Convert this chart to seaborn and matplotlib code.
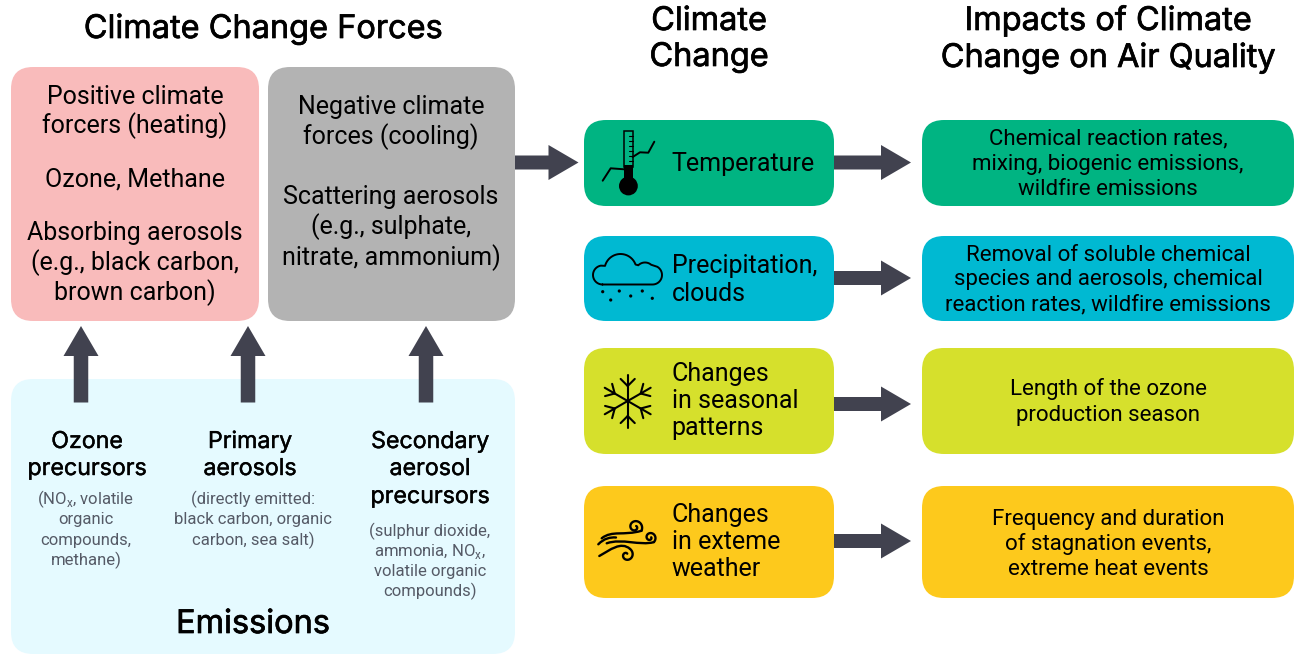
import numpy as np
import pandas as pd
import seaborn as sns
import matplotlib.pyplot as plt
import matplotlib.patheffects as pe
from matplotlib.patches import FancyBboxPatch, FancyArrow, Circle, PathPatch, Rectangle
from matplotlib.path import Path

# text content
forces_title = 'Climate Change Forces'
climate_title = ['Climate', 'Change']
impacts_title = ['Impacts of Climate', 'Change on Air Quality']
positive_lines = ['Positive climate', 'forcers (heating)', 'Ozone, Methane',
                  'Absorbing aerosols', '(e.g., black carbon,', 'brown carbon)']
negative_lines = ['Negative climate', 'forces (cooling)', 'Scattering aerosols',
                  '(e.g., sulphate,', 'nitrate, ammonium)']
emission_heads = [['Ozone', 'precursors'], ['Primary', 'aerosols'],
                  ['Secondary', 'aerosol', 'precursors']]
NOX = r'NO$_{\mathrm{x}}$'
emission_subs = [[f'({NOX}, volatile', 'organic', 'compounds,', 'methane)'],
                 ['(directly emitted:', 'black carbon, organic', 'carbon, sea salt)'],
                 ['(sulphur dioxide,', f'ammonia, {NOX},', 'volatile organic', 'compounds)']]
climate_items = [['Temperature'], ['Precipitation,', 'clouds'],
                 ['Changes', 'in seasonal', 'patterns'], ['Changes', 'in exteme', 'weather']]
impact_items = [['Chemical reaction rates,', 'mixing, biogenic emissions,', 'wildfire emissions'],
                ['Removal of soluble chemical', 'species and aerosols, chemical',
                 'reaction rates, wildfire emissions'],
                ['Length of the ozone', 'production season'],
                ['Frequency and duration', 'of stagnation events,', 'extreme heat events']]

row_colors = sns.color_palette(['#00b482', '#00b9d2', '#d6e02c', '#fdc91c'])
row_top = [120, 236, 348, 486]
row_bottom = [206, 321, 454, 598]
row_arrow_y = [162.5, 278, 404, 541]
ARROW = '#41424f'
HEAD_FONT = 'Inter'
BODY_FONT = 'Roboto'

sns.set_theme(style='white')
plt.rcParams['font.family'] = [BODY_FONT, 'DejaVu Sans']
plt.rcParams['mathtext.fontset'] = 'custom'
plt.rcParams['mathtext.rm'] = BODY_FONT

fig = plt.figure(figsize=(12.94, 6.54), dpi=100)
ax = fig.add_axes([0, 0, 1, 1])


def box(x0, y0, x1, y1, color, radius=22):
    ax.add_patch(FancyBboxPatch((x0 + radius, y0 + radius), x1 - x0 - 2 * radius, y1 - y0 - 2 * radius,
                                boxstyle=f'round,pad={radius},rounding_size={radius}',
                                fc=color, ec='none', zorder=1))


def lines(strings, x, baselines, size, ha='center', color='black', family=BODY_FONT, bold=0):
    for s, y in zip(strings, baselines):
        t = ax.text(x, y, s, ha=ha, va='baseline', fontsize=size, color=color,
                    family=[family, 'DejaVu Sans'], zorder=3)
        if bold:
            # Inter comes out too light here, thicken it a bit
            t.set_path_effects([pe.withStroke(linewidth=bold, foreground=color)])


def arrow_right(x0, x1, y):
    ax.add_patch(FancyArrow(x0, y, x1 - x0, 0, width=14, head_width=35, head_length=30,
                            length_includes_head=True, fc=ARROW, ec='none', zorder=2))


def arrow_up(x, y0, y1):
    ax.add_patch(FancyArrow(x, y0, 0, y1 - y0, width=14.5, head_width=35, head_length=30,
                            length_includes_head=True, fc=ARROW, ec='none', zorder=2))


def stroke(xs, ys, lw=1.5):
    frame = pd.DataFrame({'x': xs, 'y': ys})
    sns.lineplot(data=frame, x='x', y='y', sort=False, estimator=None, color='black',
                 linewidth=lw, ax=ax, zorder=3, solid_capstyle='round', legend=False)


def arc(cx, cy, r, a0, a1, n=30):
    t = np.radians(np.linspace(a0, a1, n))
    return cx + r * np.cos(t), cy - r * np.sin(t)


def curve(verts, lw=1.7):
    codes = [Path.MOVETO] + [Path.CURVE4] * (len(verts) - 1)
    ax.add_patch(PathPatch(Path(verts, codes), fc='none', ec='black', lw=lw, capstyle='round', zorder=3))


def spiral(cx, cy, r0, r1, a0, a1):
    t = np.linspace(0, 1, 60)
    r = r0 + (r1 - r0) * t
    a = np.radians(a0 + (a1 - a0) * t)
    return cx + r * np.cos(a), cy - r * np.sin(a)


def thermometer_icon():
    ax.add_patch(Rectangle((624.3, 130.5), 8.4, 36, fc='none', ec='black', lw=1.1, zorder=3))
    ax.add_patch(Rectangle((624.3, 165), 8.4, 18, fc='black', ec='none', zorder=3))
    ax.add_patch(Circle((628.4, 186), 9.4, fc='black', ec='none', zorder=3))
    for y in [136, 141, 146, 151, 156, 161]:
        stroke([628.5, 632.5], [y, y], lw=0.8)
    stroke([602.7, 610.7, 624.3], [180.7, 168.3, 169.3], lw=1.4)
    stroke([632.7, 640, 648.3, 654.3], [157, 152.3, 152.7, 141.7], lw=1.4)


def cloud_icon():
    xs, ys = [], []
    for part in [arc(602.5, 275, 9.5, 270, 100), arc(620.5, 270, 16, 165, 20),
                 arc(645, 272, 9.5, 135, 50), arc(652.5, 275, 9.5, 60, -90)]:
        xs += list(part[0])
        ys += list(part[1])
    xs.append(xs[0])
    ys.append(ys[0])
    stroke(xs, ys, lw=1.4)
    for px, py in [(602.7, 291.7), (610.7, 300), (619.3, 291), (630.7, 296), (642.3, 291), (652.3, 298.3)]:
        ax.add_patch(Circle((px, py), 1.6, fc='black', ec='none', zorder=3))


def snowflake_icon():
    cx, cy = 627.7, 401
    for ang in [90, 210, 330, 270, 30, 150]:
        ux, uy = np.cos(np.radians(ang)), -np.sin(np.radians(ang))
        stroke([cx, cx + 26.5 * ux], [cy, cy + 26.5 * uy])
        bx, by = cx + 15 * ux, cy + 15 * uy
        for off in [-45, 45]:
            a = np.radians(ang + off)
            stroke([bx, bx + 10 * np.cos(a)], [by, by - 10 * np.sin(a)])


def wind_icon():
    curve([(601.7, 538.3), (612, 530), (624, 536), (641.5, 530.75)])
    stroke(*spiral(635, 527, 7.5, 1.5, -30, 400), lw=1.7)
    curve([(606.7, 543.3), (622, 538), (640, 546), (653.9, 542.1)])
    stroke(*spiral(650, 537.5, 6, 1.2, -50, 370), lw=1.7)
    curve([(599.3, 556), (610, 550), (621, 541), (630, 548.9)])
    stroke(*spiral(626.5, 555, 7, 1.5, 60, -300), lw=1.7)
    curve([(598.3, 544.3), (604, 538.5), (610, 537), (616, 537.5)])


# left panels
box(11, 67, 259, 321, '#f9bbbb')
box(268, 67, 515, 321, '#b3b3b3')
box(11, 379, 515, 654, '#e5faff')

lines([forces_title], 263, [38], 23.4, family=HEAD_FONT, bold=0.5)
lines(climate_title, 709, [30, 66], 23.4, family=HEAD_FONT, bold=0.5)
lines(impacts_title, 1108, [30, 67], 23.4, family=HEAD_FONT, bold=0.5)

lines(positive_lines, 135, [104, 133.5, 186, 240, 270.5, 300.5], 18)
lines(negative_lines, 391, [114, 144, 204, 234, 265], 18)

for x in [81, 248, 426]:
    arrow_up(x, 402.5, 326)
arrow_right(515, 578.5, row_arrow_y[0])

head_x = [87, 250, 430]
sub_x = [86, 253, 430]
head_base = [[448, 475], [448, 475], [448, 475, 503]]
sub_base = [[504, 524, 545, 565], [504, 524, 545], [536, 556, 576, 596]]
for i in range(3):
    lines(emission_heads[i], head_x[i], head_base[i], 16.7, family=HEAD_FONT, bold=0.3)
    lines(emission_subs[i], sub_x[i], sub_base[i], 12, color='#555a66')
lines(['Emissions'], 253, [633], 23.4, family=HEAD_FONT, bold=0.5)

# the four climate rows
climate_base = [[171], [273, 301], [381, 408, 435], [522, 549, 576]]
impact_base = [[144.5, 170, 195], [261, 285.5, 310], [395.5, 420.5], [525, 550, 575]]
for i in range(4):
    box(584, row_top[i], 834, row_bottom[i], row_colors[i])
    box(922, row_top[i], 1294, row_bottom[i], row_colors[i])
    arrow_right(834, 911, row_arrow_y[i])
    lines(climate_items[i], 671.5, climate_base[i], 18, ha='left')
    lines(impact_items[i], 1108, impact_base[i], 16)

thermometer_icon()
cloud_icon()
snowflake_icon()
wind_icon()

ax.set_xlim(0, 1294)
ax.set_ylim(654, 0)
ax.axis('off')
fig.savefig('out.png', dpi=100, facecolor='white')
plt.close(fig)
